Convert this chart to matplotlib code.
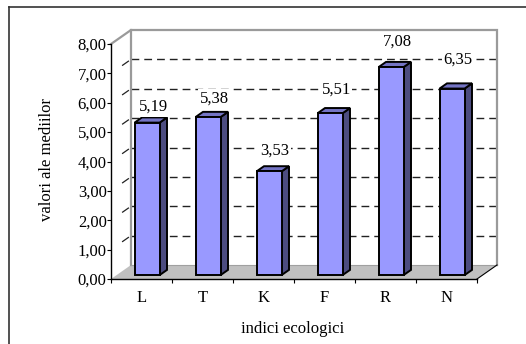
import matplotlib
matplotlib.use("Agg")
import matplotlib.pyplot as plt
from matplotlib.patches import Polygon
from matplotlib.lines import Line2D

categories = ["L", "T", "K", "F", "R", "N"]
values = [5.19, 5.38, 3.53, 5.51, 7.08, 6.35]
y_ticks = [0, 1, 2, 3, 4, 5, 6, 7, 8]
x_title = "indici ecologici"
y_title = "valori ale mediilor"

W, H = 526, 344
FS = 12
fig = plt.figure(figsize=(W / 100, H / 100), dpi=100)
fig.patch.set_facecolor("white")
plt.rcParams["font.family"] = ["Liberation Serif", "DejaVu Serif"]

# front plane of the 3-D box (pixels)
x0, x1, y0, y1 = 111, 477, 279, 44
ax = fig.add_axes([x0 / W, 1 - y0 / H, (x1 - x0) / W, (y0 - y1) / H])
n = len(categories)
ymax = 8
ax.set_xlim(0, n)
ax.set_ylim(0, ymax)
ax.patch.set_alpha(0)

px_x = (x1 - x0) / n          # pixels per category
px_y = (y0 - y1) / ymax       # pixels per value unit
DX = 20 / px_x                # depth vector in data units
DY = 14 / px_y


def dpt(x, y, d):
    return (x + DX * d, y + DY * d)


# floor
floor = Polygon([dpt(0, 0, 0), dpt(n, 0, 0), dpt(n, 0, 1), dpt(0, 0, 1)],
                closed=True, facecolor="#c0c0c0", edgecolor="none",
                clip_on=False, zorder=1)
ax.add_patch(floor)
ax.plot(*zip(dpt(n, 0, 0), dpt(n, 0, 1)), color="black", lw=0.8,
        clip_on=False, zorder=2)
ax.plot(*zip(dpt(0, 0, 1), dpt(n, 0, 1)), color="#a0a0a0", lw=0.8,
        clip_on=False, zorder=1.5)

# back wall gridlines
for v in y_ticks[1:-1]:
    ax.plot(*zip(dpt(0, v, 1), dpt(n, v, 1)), color="#222222", lw=1.0,
            dashes=(5.6, 3.6), clip_on=False, zorder=1)
    # short dash on the side wall
    ax.plot(*zip(dpt(0, v, 0.58), dpt(0, v, 0.87)), color="#222222", lw=0.9,
            clip_on=False, zorder=1)

# wall outline
wall = [dpt(0, ymax, 0), dpt(0, ymax, 1), dpt(n, ymax, 1), dpt(n, 0, 1)]
ax.plot(*zip(*wall), color="#9a9a9a", lw=1.6, clip_on=False, zorder=1.2,
        solid_joinstyle="miter")
ax.plot(*zip(dpt(0, 0, 1), dpt(0, ymax, 1)), color="#9a9a9a", lw=1.6,
        clip_on=False, zorder=1.2)

# bars
f0, f1 = 0.28, 0.65
bw = 25 / px_x
front_c, top_c, side_c = "#9999ff", "#7474c4", "#4c4c80"
for i, v in enumerate(values):
    c = i + 0.5
    l, r = c - bw / 2, c + bw / 2
    z = 3 + i * 0.01
    front = [dpt(l, 0, f0), dpt(r, 0, f0), dpt(r, v, f0), dpt(l, v, f0)]
    side = [dpt(r, 0, f0), dpt(r, 0, f1), dpt(r, v, f1), dpt(r, v, f0)]
    top = [dpt(l, v, f0), dpt(r, v, f0), dpt(r, v, f1), dpt(l, v, f1)]
    for pts, col in ((side, side_c), (top, top_c), (front, front_c)):
        ax.add_patch(Polygon(pts, closed=True, facecolor=col,
                             edgecolor="black", lw=1.4, joinstyle="miter",
                             clip_on=False, zorder=z))
    lx, ly = dpt(c, v, f0)
    lx += 6 / px_x
    ly += (15.5 + 2.6 * i) / px_y
    ax.text(lx, ly, f"{v:.2f}".replace(".", ","), ha="center", va="center",
            fontsize=FS, zorder=5, clip_on=False,
            bbox=dict(boxstyle="square,pad=0.1", facecolor="white",
                      edgecolor="none"))

# axes
for s in ("top", "right"):
    ax.spines[s].set_visible(False)
for s in ("left", "bottom"):
    ax.spines[s].set_color("black")
    ax.spines[s].set_linewidth(1.0)
    ax.spines[s].set_zorder(2)

ax.set_yticks(y_ticks)
ax.set_yticklabels([f"{t:.2f}".replace(".", ",") for t in y_ticks],
                   fontsize=FS)
ax.tick_params(axis="y", direction="out", length=2.6, width=0.8, pad=0.5,
               colors="black")

ax.set_xticks(range(n + 1))
ax.set_xticklabels([""] * (n + 1))
ax.set_xticks([i + 0.5 for i in range(n)], minor=True)
ax.set_xticklabels(categories, minor=True, fontsize=FS)
ax.tick_params(axis="x", which="major", direction="out", length=3, width=0.8)
ax.tick_params(axis="x", which="minor", length=0, pad=8)

fig.text(47 / W, 1 - 160 / H, y_title, rotation=90, ha="center",
         va="center", fontsize=FS)
fig.text(293 / W, 1 - 329 / H, x_title, ha="center", va="center",
         fontsize=FS)

# chart frame
fig.add_artist(Line2D([9 / W, 9 / W], [0, 1 - 7 / H], color="#333333",
                      lw=1.2, transform=fig.transFigure))
fig.add_artist(Line2D([9 / W, 1], [1 - 7 / H, 1 - 7 / H], color="#333333",
                      lw=1.2, transform=fig.transFigure))

fig.savefig("out.png", dpi=100)
